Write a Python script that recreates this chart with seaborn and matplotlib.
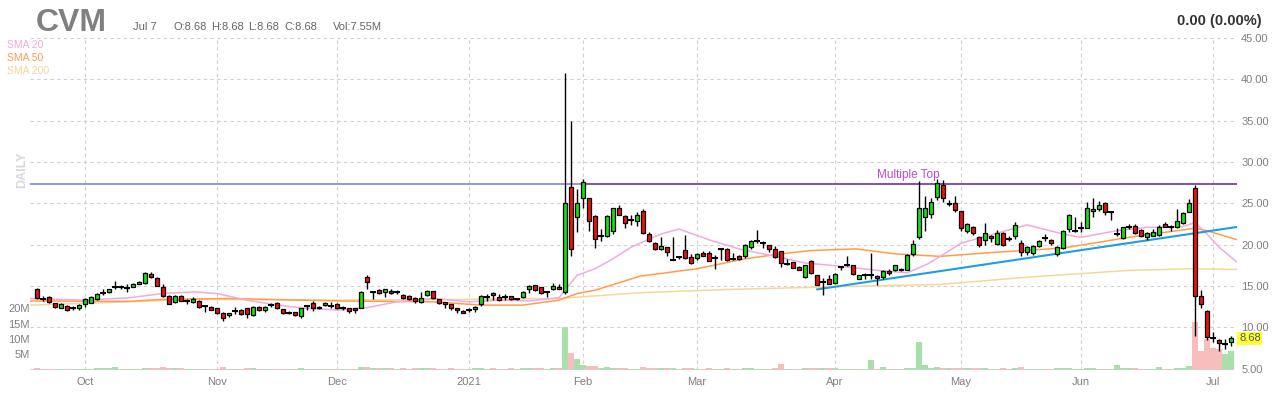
import numpy as np
import pandas as pd
import matplotlib
matplotlib.use("Agg")
import matplotlib.pyplot as plt
import seaborn as sns

# --- data (CVM daily, Sep 21 2020 - Jul 7 2021) ---
holidays = ["2020-11-26", "2020-12-25", "2021-01-01", "2021-01-18",
            "2021-02-15", "2021-04-02", "2021-05-31", "2021-07-05"]

opens = [14.6, 13.5, 13.7, 12.9, 12.4, 12.6, 12.3, 12.3, 12.8, 13.0,
         13.4, 14.2, 14.3, 14.9, 14.9, 14.8, 14.95, 15.3, 15.4, 16.5,
         16.0, 14.9, 13.85, 13.1, 13.85, 13.2, 13.1, 13.25, 12.6, 12.5,
         12.3, 11.8, 11.45, 12.0, 12.1, 12.3, 11.5, 12.5, 12.1, 12.7,
         13.0, 12.2, 11.8, 11.85, 11.35, 12.65, 13.0, 12.3, 12.7, 12.65,
         12.8, 12.4, 12.3, 12.3, 12.4, 16.05, 14.3, 14.5, 14.3, 14.45,
         14.25, 13.95, 13.85, 13.6, 13.1, 13.9, 14.4, 13.4, 13.05, 12.8,
         12.3, 12.0, 12.15, 12.25, 12.85, 13.7, 14.2, 13.65, 13.7, 13.8,
         13.45, 13.7, 14.6, 15.1, 14.85, 14.3, 14.7, 14.9, 14.25, 27.0,
         23.4, 25.6, 25.6, 23.5, 21.1, 21.0, 21.65, 24.4, 23.5, 23.05,
         22.85, 24.1, 21.3, 20.25, 19.5, 19.7, 18.1, 18.5, 19.4, 18.5,
         18.4, 19.0, 19.0, 18.4, 19.45, 19.45, 18.3, 18.6, 18.6, 19.7,
         20.5, 20.25, 19.95, 19.5, 19.25, 17.7, 17.9, 17.3, 16.1, 18.05,
         16.35, 15.5, 15.8, 15.4, 17.3, 17.55, 17.55, 15.9, 16.3, 16.3,
         16.25, 16.1, 16.8, 16.9, 17.1, 17.0, 18.9, 20.9, 23.3, 23.7,
         25.8, 27.2, 24.9, 25.1, 24.05, 21.7, 22.2, 20.9, 20.6, 21.0,
         20.1, 21.4, 20.7, 21.1, 20.25, 19.1, 19.0, 19.85, 20.8, 20.6,
         18.9, 19.6, 21.85, 21.7, 22.05, 22.05, 24.05, 24.3, 25.1, 24.0,
         21.25, 20.8, 22.2, 22.3, 21.8, 20.9, 21.1, 21.2, 22.5, 22.1,
         22.2, 22.6, 24.0, 26.9, 13.8, 12.0, 8.75, 8.5, 7.95, 8.2]

highs = [14.8, 13.8, 13.8, 13.0, 12.9, 12.7, 12.55, 12.8, 13.6, 13.8,
         14.2, 14.7, 14.7, 15.6, 15.1, 15.2, 15.4, 15.6, 16.7, 16.7,
         16.05, 15.2, 13.9, 13.9, 13.9, 13.4, 13.7, 13.3, 12.7, 12.55,
         12.35, 11.85, 11.75, 12.5, 12.2, 12.35, 12.55, 12.6, 12.6, 12.9,
         13.05, 12.25, 12.0, 11.9, 12.35, 12.7, 13.2, 12.55, 13.05, 13.1,
         12.9, 12.6, 12.35, 12.35, 14.4, 16.3, 14.35, 14.7, 14.65, 14.6,
         14.5, 14.1, 13.9, 13.65, 14.3, 14.55, 14.45, 13.5, 13.1, 12.85,
         12.4, 12.05, 12.3, 12.6, 13.9, 14.0, 14.3, 14.1, 14.0, 13.85,
         13.55, 14.4, 15.1, 15.15, 14.9, 14.35, 15.4, 15.2, 40.8, 35.0,
         26.7, 27.9, 25.7, 23.6, 21.9, 23.6, 24.5, 24.8, 23.55, 23.6,
         23.9, 24.3, 21.5, 20.3, 20.9, 19.75, 20.9, 18.7, 21.2, 18.9,
         19.0, 19.3, 19.3, 18.8, 19.5, 19.6, 19.0, 18.8, 20.1, 20.6,
         21.8, 20.5, 20.0, 19.9, 19.3, 18.3, 17.95, 17.4, 17.6, 18.1,
         16.4, 16.0, 16.4, 16.55, 17.4, 18.6, 17.6, 16.4, 16.6, 19.0,
         16.3, 16.9, 17.1, 17.6, 17.2, 18.9, 20.6, 27.7, 25.9, 25.7,
         28.0, 27.8, 25.4, 25.9, 24.1, 22.6, 22.3, 21.0, 22.6, 21.2,
         21.8, 21.5, 21.0, 22.8, 20.6, 19.8, 20.0, 20.6, 21.3, 20.7,
         19.8, 21.8, 23.7, 23.3, 22.8, 25.2, 25.7, 25.3, 25.15, 24.1,
         22.0, 22.2, 22.5, 22.5, 21.85, 21.6, 21.9, 22.4, 22.7, 22.4,
         24.3, 23.9, 25.5, 27.2, 14.5, 12.1, 9.4, 8.55, 8.6, 9.0]

lows = [13.5, 13.2, 12.9, 12.4, 12.3, 12.0, 12.1, 12.1, 12.5, 12.9,
        13.3, 13.9, 14.2, 14.7, 14.7, 14.3, 14.9, 15.2, 15.3, 16.0,
        15.0, 13.7, 12.8, 12.9, 13.2, 12.8, 13.0, 12.4, 11.9, 12.1,
        11.65, 10.8, 11.3, 11.6, 11.5, 11.1, 11.4, 12.0, 11.9, 12.5,
        12.2, 11.6, 11.6, 11.4, 11.1, 12.1, 12.0, 12.2, 12.6, 12.4,
        12.2, 12.1, 11.8, 11.8, 12.3, 14.7, 13.5, 14.1, 13.7, 14.0,
        14.0, 13.5, 13.3, 12.9, 12.9, 13.8, 13.5, 12.8, 12.4, 12.1,
        11.8, 11.75, 11.9, 11.9, 12.6, 13.2, 13.3, 13.2, 13.3, 13.3,
        13.3, 13.6, 14.2, 14.4, 14.1, 13.7, 14.5, 14.6, 14.1, 18.7,
        21.6, 24.4, 21.7, 19.6, 20.5, 20.9, 21.3, 23.6, 22.0, 22.4,
        22.3, 21.3, 20.3, 19.4, 19.4, 18.6, 18.1, 18.3, 18.3, 17.7,
        18.2, 18.6, 18.0, 17.1, 18.1, 18.0, 18.2, 18.1, 18.4, 19.5,
        20.2, 19.6, 19.1, 18.4, 17.3, 17.6, 17.2, 16.9, 16.0, 16.5,
        15.1, 13.9, 15.2, 15.3, 17.0, 17.4, 16.3, 15.8, 15.9, 15.8,
        15.1, 15.9, 16.4, 16.8, 16.8, 16.9, 18.7, 20.7, 21.7, 23.2,
        25.4, 25.2, 24.7, 24.0, 21.7, 21.4, 21.2, 19.7, 20.0, 20.3,
        20.0, 19.9, 20.4, 20.7, 18.6, 18.8, 18.8, 19.7, 20.5, 20.0,
        18.7, 19.5, 21.6, 21.5, 21.6, 22.0, 23.4, 24.1, 23.6, 23.0,
        21.1, 20.7, 21.9, 21.3, 20.9, 20.6, 21.0, 21.1, 22.1, 21.7,
        22.0, 22.5, 23.9, 9.0, 12.4, 8.5, 8.2, 7.2, 7.4, 7.8]

closes = [13.6, 13.45, 13.05, 12.5, 12.8, 12.1, 12.35, 12.75, 13.5, 13.65,
          14.0, 14.2, 14.6, 14.9, 14.9, 14.8, 15.3, 15.5, 16.6, 16.1,
          15.05, 13.85, 12.85, 13.85, 13.25, 13.2, 13.45, 12.5, 12.6, 12.15,
          11.7, 11.2, 11.7, 12.0, 11.6, 11.6, 12.5, 12.1, 12.5, 12.7,
          12.3, 11.7, 11.8, 11.45, 12.3, 12.65, 12.3, 12.5, 13.0, 12.65,
          12.4, 12.4, 12.0, 12.1, 14.3, 15.5, 14.3, 14.2, 14.6, 14.15,
          14.25, 13.6, 13.45, 13.2, 13.6, 14.45, 13.6, 12.9, 12.8, 12.3,
          12.1, 11.8, 12.15, 12.5, 13.85, 13.7, 13.9, 13.3, 13.7, 13.4,
          13.45, 14.3, 15.05, 14.5, 14.2, 14.3, 15.05, 14.7, 25.0, 19.45,
          25.0, 27.6, 22.85, 20.65, 21.1, 23.5, 24.4, 23.65, 22.6, 23.05,
          23.6, 21.4, 20.5, 19.5, 19.85, 19.1, 18.1, 18.5, 18.4, 17.8,
          18.9, 18.7, 18.05, 18.4, 19.45, 18.15, 18.3, 18.3, 19.95, 20.5,
          20.5, 20.25, 19.5, 18.5, 17.8, 17.7, 17.2, 16.95, 17.55, 16.6,
          15.15, 15.5, 15.3, 16.5, 17.3, 17.55, 16.5, 16.35, 16.3, 16.3,
          16.0, 16.8, 16.55, 17.5, 16.9, 18.8, 20.05, 24.4, 24.4, 25.2,
          27.5, 25.7, 25.1, 24.2, 22.0, 22.5, 21.4, 20.0, 21.4, 20.8,
          21.4, 20.0, 20.7, 22.4, 19.1, 19.7, 19.85, 20.45, 20.8, 20.25,
          19.7, 21.65, 23.6, 21.7, 22.05, 24.4, 24.3, 24.8, 23.9, 24.0,
          21.25, 22.1, 22.2, 21.4, 21.0, 21.4, 21.6, 22.2, 22.2, 22.1,
          22.85, 23.8, 25.1, 13.8, 12.85, 8.8, 8.7, 8.1, 8.0, 8.68]

volumes_m = [0.5, 0.4, 0.4, 0.3, 0.3, 0.3, 0.3, 0.4, 0.4, 0.4,
             0.5, 0.6, 0.7, 1.0, 0.4, 0.4, 0.4, 0.4, 0.7, 0.5,
             0.5, 0.9, 0.7, 0.5, 0.5, 0.3, 0.4, 0.4, 0.4, 0.3,
             0.4, 0.9, 0.4, 0.4, 0.4, 0.6, 0.6, 0.4, 0.4, 0.3,
             0.4, 0.4, 0.3, 0.3, 0.5, 0.3, 0.4, 0.3, 0.3, 0.3,
             0.4, 0.3, 0.3, 0.3, 1.0, 1.0, 0.8, 0.6, 0.5, 0.5,
             0.4, 0.5, 0.4, 0.7, 0.5, 0.5, 0.5, 0.4, 0.4, 0.5,
             0.4, 0.4, 0.3, 0.5, 0.6, 0.4, 0.5, 0.4, 0.3, 0.5,
             0.3, 0.8, 0.8, 0.5, 0.5, 0.4, 0.5, 0.5, 13.9, 5.4,
             3.5, 1.6, 1.3, 1.3, 0.6, 1.0, 0.8, 0.5, 0.5, 0.4,
             0.4, 1.0, 0.6, 0.5, 0.6, 0.5, 0.5, 0.4, 0.5, 0.5,
             0.4, 0.4, 0.5, 0.4, 0.4, 0.5, 0.4, 0.4, 0.5, 0.6,
             0.4, 0.4, 0.4, 0.5, 1.9, 0.4, 0.4, 0.4, 0.5, 0.5,
             0.5, 0.5, 0.5, 0.5, 0.4, 0.4, 0.4, 0.4, 0.4, 3.2,
             0.4, 1.1, 0.4, 0.4, 0.4, 0.6, 0.6, 9.1, 1.6, 0.6,
             1.0, 0.6, 0.6, 0.5, 0.6, 0.6, 0.5, 0.5, 0.5, 0.4,
             0.4, 0.5, 0.4, 0.5, 1.0, 0.4, 0.4, 0.4, 0.4, 0.4,
             0.5, 0.6, 0.7, 0.4, 0.4, 0.8, 0.5, 0.4, 0.4, 0.3,
             1.6, 0.5, 0.5, 0.5, 0.4, 0.4, 0.4, 1.1, 0.4, 0.4,
             0.5, 0.6, 1.4, 15.6, 6.2, 9.9, 7.2, 6.7, 5.1, 6.2]

# moving averages: (trading-day index, value)
sma20_idx = [-1.2, 8, 15.5, 21, 26, 30, 35, 40, 45, 50.5, 55, 60, 66, 72, 77, 82, 87,
             90, 93, 96, 99, 104, 107, 112, 117, 123, 128, 134, 140, 145, 148.5, 151,
             154, 160, 165, 171, 174, 180, 185, 191, 193, 195, 197, 200]
sma20_val = [13.5, 13.3, 13.6, 14.1, 14.3, 14.1, 13.3, 12.7, 12.3, 12.1, 12.4, 13.1, 13.5,
             13.1, 13.3, 13.2, 13.6, 16.3, 17.1, 18.3, 19.7, 21.3, 21.9, 20.6, 19.5, 18.6,
             17.8, 17.4, 16.9, 16.6, 17.7, 18.8, 20.2, 21.4, 22.4, 21.3, 20.9, 21.7, 22.1,
             22.2, 22.7, 21.3, 19.7, 17.9]
sma50_idx = [-1.2, 15, 21, 32, 50.5, 66, 74, 81, 87, 90, 93, 100.5, 110, 118, 124, 129,
             136.5, 143, 150.5, 160, 171, 182, 193, 195, 200.5]
sma50_val = [13.2, 13.15, 13.4, 13.5, 13.2, 13.1, 12.7, 12.7, 13.3, 14.1, 14.5, 16.2, 17.1,
             18.3, 18.9, 19.3, 19.5, 18.9, 18.6, 19.1, 19.6, 20.9, 22.0, 21.7, 20.5]
sma200_idx = [-1.2, 15.5, 26.6, 50.5, 71, 87, 100.5, 115.5, 132, 150.5, 165.5, 182, 192.7, 200.5]
sma200_val = [12.7, 13.1, 13.4, 13.3, 13.4, 13.5, 14.2, 14.6, 14.9, 15.2, 16.1, 16.9, 17.1, 17.0]

trend_idx = [130, 200]
trend_val = [14.6, 22.15]
resistance = 27.3

price_ticks = [5, 10, 15, 20, 25, 30, 35, 40, 45]
vol_ticks = [5, 10, 15, 20]

# --- dates ---
days = pd.bdate_range("2020-09-21", "2021-07-07")
days = days[~days.isin(pd.to_datetime(holidays))]
df = pd.DataFrame({"date": days, "open": opens, "high": highs, "low": lows,
                   "close": closes, "vol": volumes_m})
df["i"] = np.arange(len(df))
up = df["close"] >= df["open"]

month_first = df.groupby(df["date"].dt.to_period("M"))["i"].min().iloc[1:]
month_labels = [("2021" if p.month == 1 else p.strftime("%b")) for p in month_first.index]

# --- figure ---
sns.set_theme(style="white")
plt.rcParams["font.family"] = ["Liberation Sans", "DejaVu Sans"]

fig = plt.figure(figsize=(12.8, 4), dpi=100)
ax = fig.add_axes([30 / 1280, 30 / 400, 1207 / 1280, 332 / 400])
ax2 = ax.twinx()
ax.set_zorder(ax2.get_zorder() + 1)
ax.patch.set_visible(False)

# volume
ax2.bar(df["i"], df["vol"], width=0.85,
        color=np.where(up, "#a9dfa9", "#f9bdbd"), linewidth=0)
ax2.set_ylim(0, 332 / 3.1)
ax2.yaxis.tick_left()
ax2.set_yticks(vol_ticks)
ax2.set_yticklabels([f"{v}M" for v in vol_ticks])
ax2.tick_params(axis="y", length=0, pad=0, labelsize=8, labelcolor="#808080")
ax2.grid(False)

# grid
ax.set_xlim(-1.17, 200.0)
ax.set_ylim(4.855, 45.0)
ax.set_yticks(price_ticks)
ax.set_yticklabels([f"{v:.2f}" for v in price_ticks])
ax.yaxis.tick_right()
ax.set_xticks(month_first.values)
ax.set_xticklabels(month_labels)
ax.tick_params(axis="y", length=0, pad=3, labelsize=8, labelcolor="#808080")
ax.tick_params(axis="x", length=0, pad=5, labelsize=8, labelcolor="#808080")
ax.grid(True, color="#cfcfcf", linestyle=(0, (3, 3)), linewidth=0.8)
for a in (ax, ax2):
    for s in a.spines.values():
        s.set_visible(False)

# moving averages
sns.lineplot(x=sma200_idx, y=sma200_val, ax=ax, color="#f6d79a", linewidth=1.1, zorder=2)
sns.lineplot(x=sma50_idx, y=sma50_val, ax=ax, color="#ff9d4d", linewidth=1.1, zorder=2)
sns.lineplot(x=sma20_idx, y=sma20_val, ax=ax, color="#f4a9de", linewidth=1.1, zorder=2)

# resistance and trend lines
ax.plot([-1.17, 91], [resistance, resistance], color="#8d8ddc", linewidth=1.3, zorder=2)
ax.plot([91, 200], [resistance, resistance], color="#7b3fae", linewidth=1.3, zorder=2)
sns.lineplot(x=trend_idx, y=trend_val, ax=ax, color="#1e9ee0", linewidth=1.5, zorder=2)
ax.text(145.2, resistance + 0.45, "Multiple Top", color="#bb48cf", fontsize=8.5,
        ha="center", va="bottom", zorder=5)

# candles
ax.vlines(df["i"], df["low"], df["high"], color="black", linewidth=1, zorder=3)
body_lo = np.minimum(df["open"], df["close"])
body_h = (df["close"] - df["open"]).abs()
ax.bar(df["i"], body_h, bottom=body_lo, width=0.75,
       color=np.where(up, "#14e014", "#ee1111"), edgecolor="black", linewidth=0.9, zorder=4)
flat = body_h < 0.06
ax.hlines(df.loc[flat, "close"], df.loc[flat, "i"] - 0.42, df.loc[flat, "i"] + 0.42,
          color="black", linewidth=1.4, zorder=4)
ax.set_xlabel("")
ax.set_ylabel("")
ax2.set_ylabel("")

# last price tag
ax.annotate(f"{closes[-1]:.2f}", xy=(1.0017, closes[-1]), xycoords=("axes fraction", "data"),
            ha="left", va="center", fontsize=8, color="#555555",
            bbox=dict(boxstyle="square,pad=0.15", fc="#ffff33", ec="none"), zorder=6)

# header text
fig.text(36 / 1280, 1 - 31 / 400, "CVM", fontsize=23, fontweight="bold", color="#808080",
         ha="left", va="baseline")
hdr = [(133, "Jul 7"), (173, "O:8.68"), (211, "H:8.68"), (248, "L:8.68"),
       (284, "C:8.68"), (333, "Vol:7.55M")]
for x, t in hdr:
    fig.text(x / 1280, 1 - 30 / 400, t, fontsize=8, color="#666666", ha="left", va="baseline")
fig.text(1262 / 1280, 1 - 25 / 400, "0.00 (0.00%)", fontsize=10.5, fontweight="bold",
         color="#333333", ha="right", va="baseline")
for y, t, c in [(45, "SMA 20", "#f4a9de"), (58, "SMA 50", "#ff9d4d"), (71, "SMA 200", "#f3d497")]:
    fig.text(7 / 1280, 1 - y / 400, t, fontsize=7.5, color=c, ha="left", va="center")
fig.text(22 / 1280, 1 - 170 / 400, "DAILY", rotation=90, fontsize=9, fontweight="bold",
         color="#d9d9d9", ha="center", va="center")

fig.savefig("out.png", dpi=100)
